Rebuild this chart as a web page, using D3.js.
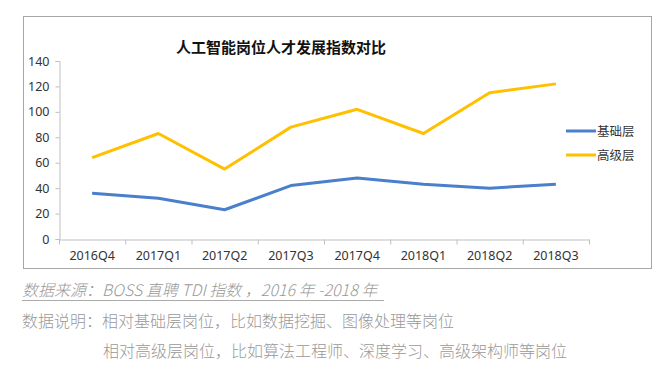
<!DOCTYPE html>
<html>
<head>
<meta charset="utf-8">
<script src="https://cdn.jsdelivr.net/npm/d3@7.9.0/dist/d3.min.js"></script>
<style>
  body { margin: 0; background: #fff; }
  svg text { font-family: "Noto Sans CJK SC", "Noto Sans", sans-serif; }
</style>
</head>
<body>
<svg width="672" height="370"></svg>
<script>
// -------------------------
// Data
// -------------------------
const quarters = ['2016Q4', '2017Q1', '2017Q2', '2017Q3', '2017Q4', '2018Q1', '2018Q2', '2018Q3'];
const basicLevel = [36, 32, 23, 42, 48, 43, 40, 43];
const seniorLevel = [64, 83, 55, 88, 102, 83, 115, 122];
const yTicks = [0, 20, 40, 60, 80, 100, 120, 140];
const seriesNames = ['基础层', '高级层'];
const seriesColors = ['#4a7fcc', '#ffc000'];

const svg = d3.select('svg');

// chart frame
svg.append('rect')
  .attr('x', 23.5).attr('y', 16.5)
  .attr('width', 628).attr('height', 252)
  .attr('fill', 'none').attr('stroke', '#a6a6a6');

// title
svg.append('text')
  .attr('x', 281).attr('y', 53)
  .attr('text-anchor', 'middle')
  .attr('font-size', 15).attr('font-weight', 'bold')
  .attr('fill', '#111')
  .text('人工智能岗位人才发展指数对比');

// -------------------------
// Scales and axes
// -------------------------
const x = d3.scaleBand().domain(quarters).range([59, 589]);
const y = d3.scaleLinear().domain([0, 140]).range([239, 61]);

const yAxis = svg.append('g')
  .attr('transform', 'translate(59.5,0)')
  .call(d3.axisLeft(y).tickValues(yTicks).tickSize(4).tickPadding(6));

const xAxis = svg.append('g')
  .attr('transform', 'translate(0,239.5)')
  .call(d3.axisBottom(x).tickSize(0).tickPadding(12));

// x ticks sit between categories
xAxis.selectAll('.boundary')
  .data(d3.range(quarters.length + 1))
  .join('line')
  .attr('x1', i => 59.5 + i * x.step())
  .attr('x2', i => 59.5 + i * x.step())
  .attr('y1', 0).attr('y2', 5)
  .attr('stroke', '#bfbfbf');

[xAxis, yAxis].forEach(g => {
  g.selectAll('path.domain').attr('stroke', '#bfbfbf');
  g.selectAll('.tick line').attr('stroke', '#bfbfbf');
  g.selectAll('.tick text')
    .attr('font-size', 12.5)
    .attr('fill', '#333')
    .style('font-family', '"Noto Sans", sans-serif');
});

// -------------------------
// Lines
// -------------------------
const line = d3.line()
  .x((d, i) => x(quarters[i]) + x.bandwidth() / 2)
  .y(d => y(d));

[basicLevel, seniorLevel].forEach((values, idx) => {
  svg.append('path')
    .datum(values)
    .attr('d', line)
    .attr('fill', 'none')
    .attr('stroke', seriesColors[idx])
    .attr('stroke-width', 3)
    .attr('stroke-linejoin', 'round');
});

// legend
seriesNames.forEach((name, idx) => {
  const ly = 131 + idx * 24;
  svg.append('line')
    .attr('x1', 566).attr('x2', 596)
    .attr('y1', ly).attr('y2', ly)
    .attr('stroke', seriesColors[idx])
    .attr('stroke-width', 3);
  svg.append('text')
    .attr('x', 597).attr('y', ly + 4.5)
    .attr('font-size', 12.5)
    .attr('fill', '#333')
    .text(name);
});

// -------------------------
// Footer notes
// -------------------------
svg.append('text')
  .attr('x', 22).attr('y', 296)
  .attr('font-size', 16)
  .attr('font-style', 'italic')
  .attr('font-weight', 300)
  .attr('fill', '#999')
  .text('数据来源：BOSS 直聘 TDI 指数 ，2016 年 -2018 年');

svg.append('line')
  .attr('x1', 22).attr('x2', 384)
  .attr('y1', 300.5).attr('y2', 300.5)
  .attr('stroke', '#aaa');

svg.append('text')
  .attr('x', 22).attr('y', 327)
  .attr('font-size', 16)
  .attr('font-weight', 300)
  .attr('fill', '#999')
  .text('数据说明：相对基础层岗位，比如数据挖掘、图像处理等岗位');

svg.append('text')
  .attr('x', 103).attr('y', 357)
  .attr('font-size', 16)
  .attr('font-weight', 300)
  .attr('fill', '#999')
  .text('相对高级层岗位，比如算法工程师、深度学习、高级架构师等岗位');
</script>
</body>
</html>
